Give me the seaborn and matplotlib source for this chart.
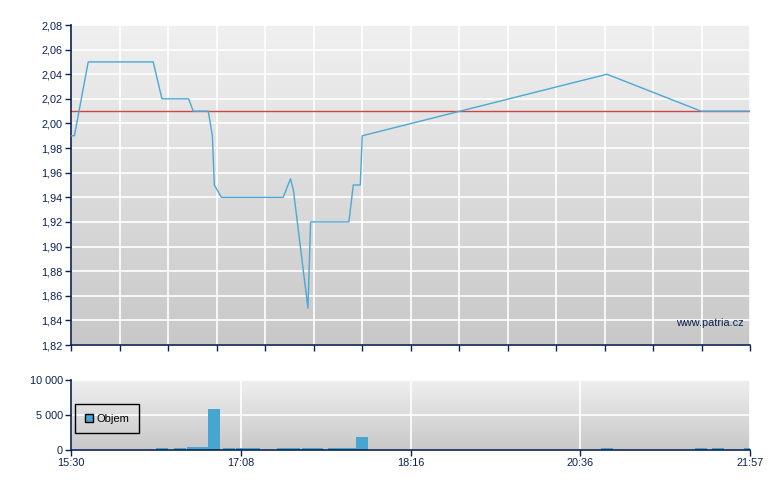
import numpy as np
import matplotlib
matplotlib.use("Agg")
import matplotlib.pyplot as plt
from matplotlib.colors import LinearSegmentedColormap
from matplotlib.patches import Patch
from matplotlib.ticker import FuncFormatter
import pandas as pd
import seaborn as sns

# poradi obchodu (osa x neni casova, jen poradova 0..28)
price_pos = [0, 0.14, 0.71, 3.39, 3.75, 4.85, 5.04, 5.66, 5.83, 5.91, 6.20, 8.75,
             9.05, 9.17, 9.77, 9.88, 11.46, 11.64, 11.93, 12.01, 22.10, 25.98, 28]
price = [1.99, 1.99, 2.05, 2.05, 2.02, 2.02, 2.01, 2.01, 1.99, 1.95, 1.94, 1.94,
         1.955, 1.946, 1.85, 1.92, 1.92, 1.95, 1.95, 1.99, 2.04, 2.01, 2.01]
prev_close = 2.01

vol_pos = [3.75, 4.51, 5.03, 5.40, 5.90, 6.50, 7.05, 7.55, 8.75, 9.20, 9.77, 10.15,
           10.85, 11.25, 11.50, 12.00, 22.10, 25.98, 26.68, 28.0]
volume = [250, 250, 400, 400, 5800, 250, 250, 250, 250, 250, 250, 250,
          250, 250, 250, 1900, 250, 250, 250, 250]

time_labels = ["15:30", "17:08", "18:16", "20:36", "21:57"]
price_ticks = np.round(np.arange(1.82, 2.0801, 0.02), 2)
vol_ticks = [0, 5000, 10000]

NAVY = "#0b2152"
LINE = "#4ba8d6"
BAR = "#46a6d0"
RED = "#cc4646"


def gradient_bg(ax, top="#f0f0f0", bottom="#c8c8c8"):
    cmap = LinearSegmentedColormap.from_list("bg", [bottom, top])
    grad = np.linspace(0, 1, 256).reshape(-1, 1)
    ax.imshow(grad, extent=[0, 1, 0, 1], transform=ax.transAxes, cmap=cmap,
              aspect="auto", origin="lower", zorder=-1, interpolation="bicubic")


def style_axes(ax):
    ax.grid(True, color="white", linewidth=1.2)
    ax.set_axisbelow(True)
    for s in ["top", "right"]:
        ax.spines[s].set_visible(False)
    for s in ["left", "bottom"]:
        ax.spines[s].set_color(NAVY)
        ax.spines[s].set_linewidth(1.2)
    ax.tick_params(bottom=True, left=True, direction="out", length=4, width=1,
                   color=NAVY, labelcolor=NAVY, labelsize=7.8, pad=2)


sns.set_theme(style="white")
plt.rcParams["font.family"] = ["Liberation Sans", "DejaVu Sans"]

fig = plt.figure(figsize=(7.8, 4.9), dpi=100)
ax = fig.add_axes([71 / 780, 145 / 490, 679 / 780, 320 / 490])
axv = fig.add_axes([71 / 780, 40 / 490, 679 / 780, 70 / 490])

# cena
gradient_bg(ax)
style_axes(ax)
ax.axhline(prev_close, color=RED, linewidth=1.0, zorder=2)
df = pd.DataFrame({"pos": price_pos, "price": price})
sns.lineplot(data=df, x="pos", y="price", ax=ax, color=LINE, linewidth=1.0,
             estimator=None, zorder=3)
ax.set_xlim(0, 28)
ax.set_ylim(1.82, 2.08)
ax.set_xticks(np.arange(0, 28.01, 2))
ax.set_yticks(price_ticks)
ax.yaxis.set_major_formatter(FuncFormatter(lambda v, p: f"{v:.2f}".replace(".", ",")))
ax.tick_params(axis="x", labelbottom=False)
ax.set_xlabel("")
ax.set_ylabel("")
ax.text(0.99, 0.068, "www.patria.cz", transform=ax.transAxes, ha="right",
        va="center", color=NAVY, fontsize=7.8)

# objem
gradient_bg(axv, top="#efefef", bottom="#c8c8c8")
style_axes(axv)
axv.bar(vol_pos, volume, width=0.5, color=BAR, edgecolor="none", linewidth=0, zorder=1.5)
axv.set_xlim(0, 28)
axv.set_ylim(0, 10000)
axv.set_xticks(np.arange(0, 28.01, 7))
axv.set_xticklabels(time_labels)
axv.set_yticks(vol_ticks)
axv.yaxis.set_major_formatter(FuncFormatter(lambda v, p: f"{int(v):,}".replace(",", " ")))
leg = axv.legend(handles=[Patch(facecolor=BAR, edgecolor="black", linewidth=1.0, label="Objem")],
                 loc="lower left", bbox_to_anchor=(0.006, 0.243), fancybox=False,
                 edgecolor="black", facecolor="none", framealpha=1,
                 handlelength=0.75, handleheight=0.75, handletextpad=0.35,
                 borderpad=0.85, borderaxespad=0, fontsize=8, labelcolor="black")
leg.get_frame().set_linewidth(1.0)

fig.savefig("out.png", dpi=100)
plt.close(fig)
